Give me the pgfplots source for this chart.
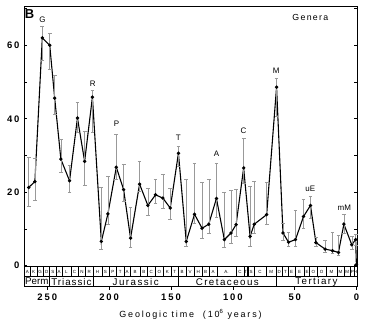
\documentclass[border=0pt]{standalone}
\usepackage{fontspec}
\setmainfont{Liberation Sans}
\usepackage{pgfplots}
\pgfplotsset{compat=1.18}
\usepackage{pgfplotstable}

\pgfplotstableread{
x y ep em
265 21.3 8.2 5.2
260 22.9 6.4 5.2
254 62.0 3.3 6.0
248 60.0 3.3 6.4
244 45.6 6.2 4.3
239 29.0 5.5 3.5
232 23.1 4.2 3.2
225.6 40.2 4.3 3.9
219.8 28.4 8.3 6.5
213.5 45.9 1.8 9.5
206.3 6.6 14.7 2.0
201 14.1 10.2 2.9
194.2 26.8 9.1 3.4
188.3 20.7 6.8 3.2
182.7 7.5 8.4 2.5
175.4 22.2 6.2 2.0
168.7 16.4 4.7 2.7
162.5 19.3 4.1 2.2
156.6 18.4 6.4 2.7
150.6 15.7 5.4 3.0
144 30.6 1.9 3.6
137.7 6.6 16.8 1.3
131 14.0 13.8 2.5
124.9 10.2 12.6 2.7
119.5 11.3 12.1 2.4
113.3 18.3 9.5 5.0
106.9 7.1 12.8 2.0
101.5 8.9 11.6 2.7
97.4 11.2 9.5 3.2
91.3 26.6 8.0 4.1
86.1 8.0 13.6 2.7
82.7 11.3 11.6 2.4
72.7 13.9 8.8 2.7
64.7 48.6 2.5 8.0
59.5 8.9 2.7 2.0
55 6.4 2.7 1.1
49.4 7.1 7.9 1.8
42.9 13.4 4.6 3.1
37.3 16.4 2.5 3.4
32.9 6.3 1.5 1.0
25.4 4.5 2.3 0.9
19.5 4.1 5.1 0.8
14.7 3.6 4.8 0.8
10.3 11.3 2.6 2.4
3.9 5.7 2.3 1.3
0.8 7.1 1.5 1.5
0.2 0.3 0 0
}\genera

\newcommand{\stg}[3]{\node[font=\fontsize{4.5}{5}\selectfont] at (axis cs:{(#1+#2)/2},-1.57) {#3};}
\newcommand{\per}[4][15]{\node[font=\addfontfeature{LetterSpace=#1}\fontsize{9.8}{11}\selectfont] at (axis cs:{(#2+#3)/2},-4.35) {#4};}

\begin{document}
\begin{tikzpicture}
\begin{axis}[
  scale only axis, width=333bp, height=279.8bp,
  x dir=reverse, xmin=-0.3, xmax=268.8, ymin=-5.66, ymax=70.5,
  xtick={0,50,...,250}, ytick={0,10,...,70},
  yticklabels={0,,20,,40,,60,},
  xtick pos=left, ytick pos=both, yticklabel pos=left,
  xtick align=outside, ytick align=inside,
  major tick length=3bp,
  axis line style={line width=0.8pt},
  tick style={line width=0.6pt, black},
  /pgf/number format/assume math mode=true,
  ticklabel style={font=\bfseries\addfontfeature{LetterSpace=20}\fontsize{9.5}{11}\selectfont},
  xticklabel style={yshift=-1bp},
  yticklabel style={xshift=-1bp},
  xlabel={\addfontfeature{LetterSpace=20}Geologic time\hspace{1em}(10\textsuperscript{6} years)},
  xlabel style={font=\fontsize{9}{10}\selectfont, yshift=-2bp},
  clip=false,
]
\addplot[black, line width=1.1pt, mark=*, mark size=1.1pt,
  error bars/.cd, y dir=both, y explicit,
  error bar style={gray!80, line width=0.5pt},
  error mark options={rotate=90, gray!80, mark size=1.9pt, line width=0.5pt}]
  table[x=x, y=y, y error plus=ep, y error minus=em] {\genera};

% stage strip
\draw[line width=0.6pt] (axis cs:268.8,-0.2) -- (axis cs:-0.3,-0.2);
\draw[line width=0.6pt] (axis cs:268.8,-2.94) -- (axis cs:-0.3,-2.94);
\pgfplotsinvokeforeach{263.5,258.5,253,243,238,231,225,219,206,200,194,188,183,175,169,163,156,150,138,131,125,119,113,97.5,91,88.5,87.5,83,73,60.2,54.9,50,42,38,32,24.6,16,10,5,2}{
  \draw[line width=0.4pt] (axis cs:#1,-0.2) -- (axis cs:#1,-2.94);
}
\pgfplotsinvokeforeach{248,213,144,65}{
  \draw[line width=0.6pt] (axis cs:#1,-0.2) -- (axis cs:#1,-5.66);
}
\stg{268.8}{263.5}{A}\stg{263.5}{258.5}{K}\stg{258.5}{253}{G}\stg{253}{248}{D}
\stg{248}{243}{S}\stg{243}{238}{A}\stg{238}{231}{L}\stg{231}{225}{C}\stg{225}{219}{N}\stg{219}{213}{R}
\stg{213}{206}{H}\stg{206}{200}{S}\stg{200}{194}{P}\stg{194}{188}{T}\stg{188}{183}{A}\stg{183}{175}{B}
\stg{175}{169}{B}\stg{169}{163}{C}\stg{163}{156}{O}\stg{156}{150}{K}\stg{150}{144}{T}
\stg{144}{138}{B}\stg{138}{131}{V}\stg{131}{125}{H}\stg{125}{119}{B}\stg{119}{113}{A}\stg{113}{97.5}{A.}
\stg{97.5}{91}{C}\stg{91}{88.5}{T}\stg{87.5}{83}{S}\stg{83}{73}{C}\stg{73}{65}{M}
\stg{65}{60.2}{D}\stg{60.2}{54.9}{T}\stg{54.9}{50}{E}\stg{50}{42}{E}\stg{42}{38}{E}
\stg{38}{32}{O}\stg{32}{24.6}{O}\stg{24.6}{16}{M}\stg{16}{10}{M}\stg{10}{5}{M}\stg{5}{2}{P}\stg{2}{0}{H}
\per[0]{268.8}{248}{Perm}\per[10]{248}{213}{Triassic}\per{213}{144}{Jurassic}
\per{144}{65}{Cretaceous}\per{65}{0}{Tertiary}

% annotations
\begin{scope}[every node/.style={font=\fontsize{8}{9}\selectfont}]
\node at (axis cs:253.8,67.0) {G};
\node at (axis cs:213.3,49.6) {R};
\node at (axis cs:194,38.6) {P};
\node at (axis cs:144,34.8) {T};
\node at (axis cs:113.3,30.4) {A};
\node at (axis cs:91.5,36.7) {C};
\node at (axis cs:65,53.0) {M};
\node at (axis cs:37.5,20.9) {uE};
\node at (axis cs:10,15.7) {mM};
\node[font=\addfontfeature{LetterSpace=15}\fontsize{8.8}{10}\selectfont] at (axis cs:37.4,67.7) {Genera};
\node[font=\bfseries\fontsize{13}{14}\selectfont] at (axis cs:264.3,68.5) {B};
\end{scope}
\end{axis}
\path (current axis.south west) ++(-24bp,-42.5bp) coordinate (bbA);
\path (current axis.north east) ++(17bp,6.7bp) coordinate (bbB);
\useasboundingbox (bbA) rectangle (bbB);
\end{tikzpicture}
\end{document}
